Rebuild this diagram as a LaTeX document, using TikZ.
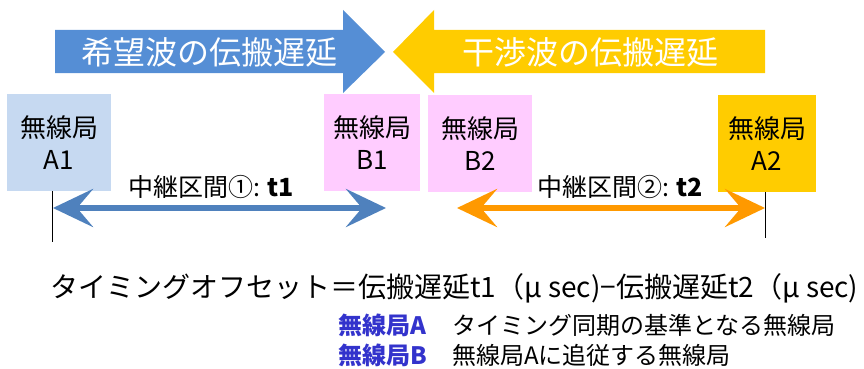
\documentclass[tikz,border=0pt]{standalone}
\usepackage{fontspec}
\setmainfont{Noto Sans CJK JP}
\usetikzlibrary{arrows.meta}
\definecolor{wantblue}{HTML}{558ED5}
\definecolor{intyellow}{HTML}{FFCC00}
\definecolor{boxblue}{HTML}{C6D9F1}
\definecolor{boxpink}{HTML}{FFCCFF}
\definecolor{lineblue}{HTML}{4F81BD}
\definecolor{lineorange}{HTML}{FF9900}
\definecolor{noteblue}{HTML}{3333CC}
\tikzset{
  bigtext/.style={text=white, font=\fontsize{32}{36}\selectfont, inner sep=0pt},
  station/.style={minimum height=97pt, inner sep=0pt, align=center,
     font=\fontsize{26}{32}\selectfont},
  span/.style={line width=6pt, {Stealth[length=40pt,width=38pt,inset=16pt]}-{Stealth[length=40pt,width=38pt,inset=16pt]}},
  spanlabel/.style={font=\fontsize{25}{28}\selectfont, inner sep=0pt},
  tick/.style={line width=1pt, black},
  note/.style={font=\fontsize{24}{28}\selectfont, inner sep=0pt, anchor=west},
  notekey/.style={note, text=noteblue, font=\fontsize{24}{28}\selectfont\bfseries}
}
\begin{document}
\begin{tikzpicture}[x=1pt,y=-1pt]
\useasboundingbox (0,0) rectangle (864,369);
% block arrows
\fill[wantblue] (55,30) -- (343,30) -- (343,10) -- (385,52) -- (343,93) -- (343,73) -- (55,73) -- cycle;
\fill[intyellow] (765,30) -- (434,30) -- (434,10) -- (393,52) -- (434,93) -- (434,73) -- (765,73) -- cycle;
\node[bigtext] (want) at (209,52) {希望波の伝搬遅延};
\node[bigtext] (inter) at (590,52) {干渉波の伝搬遅延};
% stations
\node[station, fill=boxblue, minimum width=104pt] (A1) at (59,142.5) {無線局\\A1};
\node[station, fill=boxpink, minimum width=96pt] (B1) at (372,142.5) {無線局\\B1};
\node[station, fill=boxpink, minimum width=104pt] (B2) at (480,143.5) {無線局\\B2};
\node[station, fill=intyellow, minimum width=98pt] (A2) at (767,143.5) {無線局\\A2};
% ticks
\coordinate (t1top) at (52,191);
\coordinate (t1bot) at (52,242);
\coordinate (t2top) at (765,192);
\coordinate (t2bot) at (765,238);
\draw[tick] (t1top) -- (t1bot);
\draw[tick] (t2top) -- (t2bot);
% spans
\coordinate (s1l) at (53,208);
\coordinate (s1r) at (386,208);
\coordinate (s2l) at (457,208);
\coordinate (s2r) at (765,208);
\draw[span, lineblue] (s1l) -- (s1r);
\draw[span, lineorange] (s2l) -- (s2r);
\node[spanlabel] (lab1) at (211,187) {中継区間①: \textbf{t1}};
\node[spanlabel] (lab2) at (620,187) {中継区間②: \textbf{t2}};
% formula
\node[font=\fontsize{28}{32}\selectfont, inner sep=0pt, anchor=west] (formula) at (50,288)
  {タイミングオフセット＝伝搬遅延t1（μ sec)−伝搬遅延t2（μ sec)};
\node[notekey] (kA) at (338,325) {無線局A};
\node[note] (dA) at (452,325) {タイミング同期の基準となる無線局};
\node[notekey] (kB) at (338,355) {無線局B};
\node[note] (dB) at (452,355) {無線局Aに追従する無線局};
\end{tikzpicture}
\end{document}
